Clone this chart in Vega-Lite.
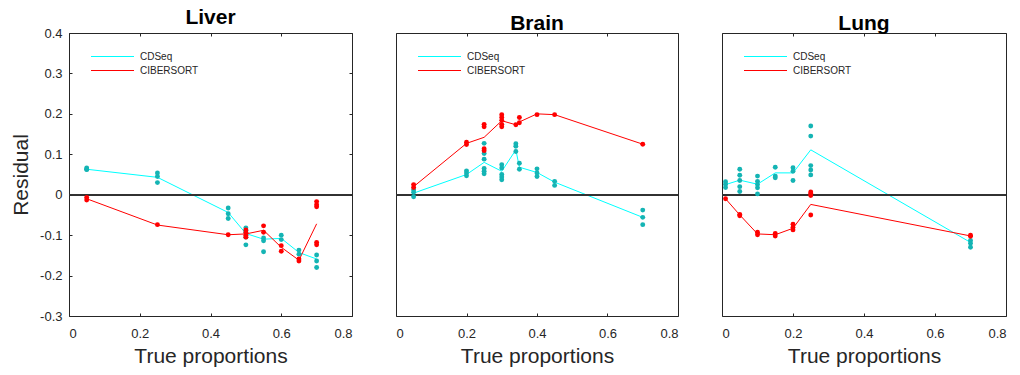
{
  "$schema": "https://vega.github.io/schema/vega-lite/v6.json",
  "padding": {"left": 10, "top": 6, "right": 0, "bottom": 0},
  "spacing": 44,
  "bounds": "flush",
  "datasets": {
    "d": [
      {"panel":"Liver","method":"CDSeq","kind":"pt","x":0.05,"y":0.066},
      {"panel":"Liver","method":"CDSeq","kind":"pt","x":0.05,"y":0.063},
      {"panel":"Liver","method":"CDSeq","kind":"pt","x":0.05,"y":0.062},
      {"panel":"Liver","method":"CDSeq","kind":"pt","x":0.25,"y":0.054},
      {"panel":"Liver","method":"CDSeq","kind":"pt","x":0.25,"y":0.045},
      {"panel":"Liver","method":"CDSeq","kind":"pt","x":0.25,"y":0.030},
      {"panel":"Liver","method":"CDSeq","kind":"pt","x":0.45,"y":-0.033},
      {"panel":"Liver","method":"CDSeq","kind":"pt","x":0.45,"y":-0.047},
      {"panel":"Liver","method":"CDSeq","kind":"pt","x":0.45,"y":-0.059},
      {"panel":"Liver","method":"CDSeq","kind":"pt","x":0.5,"y":-0.082},
      {"panel":"Liver","method":"CDSeq","kind":"pt","x":0.5,"y":-0.088},
      {"panel":"Liver","method":"CDSeq","kind":"pt","x":0.5,"y":-0.093},
      {"panel":"Liver","method":"CDSeq","kind":"pt","x":0.5,"y":-0.105},
      {"panel":"Liver","method":"CDSeq","kind":"pt","x":0.5,"y":-0.124},
      {"panel":"Liver","method":"CDSeq","kind":"pt","x":0.55,"y":-0.107},
      {"panel":"Liver","method":"CDSeq","kind":"pt","x":0.55,"y":-0.114},
      {"panel":"Liver","method":"CDSeq","kind":"pt","x":0.55,"y":-0.141},
      {"panel":"Liver","method":"CDSeq","kind":"pt","x":0.6,"y":-0.100},
      {"panel":"Liver","method":"CDSeq","kind":"pt","x":0.6,"y":-0.111},
      {"panel":"Liver","method":"CDSeq","kind":"pt","x":0.65,"y":-0.137},
      {"panel":"Liver","method":"CDSeq","kind":"pt","x":0.65,"y":-0.147},
      {"panel":"Liver","method":"CDSeq","kind":"pt","x":0.7,"y":-0.149},
      {"panel":"Liver","method":"CDSeq","kind":"pt","x":0.7,"y":-0.164},
      {"panel":"Liver","method":"CDSeq","kind":"pt","x":0.7,"y":-0.180},
      {"panel":"Liver","method":"CIBERSORT","kind":"pt","x":0.05,"y":-0.007},
      {"panel":"Liver","method":"CIBERSORT","kind":"pt","x":0.05,"y":-0.013},
      {"panel":"Liver","method":"CIBERSORT","kind":"pt","x":0.25,"y":-0.074},
      {"panel":"Liver","method":"CIBERSORT","kind":"pt","x":0.45,"y":-0.099},
      {"panel":"Liver","method":"CIBERSORT","kind":"pt","x":0.5,"y":-0.087},
      {"panel":"Liver","method":"CIBERSORT","kind":"pt","x":0.5,"y":-0.094},
      {"panel":"Liver","method":"CIBERSORT","kind":"pt","x":0.5,"y":-0.100},
      {"panel":"Liver","method":"CIBERSORT","kind":"pt","x":0.5,"y":-0.105},
      {"panel":"Liver","method":"CIBERSORT","kind":"pt","x":0.55,"y":-0.077},
      {"panel":"Liver","method":"CIBERSORT","kind":"pt","x":0.55,"y":-0.093},
      {"panel":"Liver","method":"CIBERSORT","kind":"pt","x":0.6,"y":-0.126},
      {"panel":"Liver","method":"CIBERSORT","kind":"pt","x":0.6,"y":-0.140},
      {"panel":"Liver","method":"CIBERSORT","kind":"pt","x":0.65,"y":-0.159},
      {"panel":"Liver","method":"CIBERSORT","kind":"pt","x":0.65,"y":-0.164},
      {"panel":"Liver","method":"CIBERSORT","kind":"pt","x":0.7,"y":-0.017},
      {"panel":"Liver","method":"CIBERSORT","kind":"pt","x":0.7,"y":-0.025},
      {"panel":"Liver","method":"CIBERSORT","kind":"pt","x":0.7,"y":-0.030},
      {"panel":"Liver","method":"CIBERSORT","kind":"pt","x":0.7,"y":-0.118},
      {"panel":"Liver","method":"CIBERSORT","kind":"pt","x":0.7,"y":-0.124},
      {"panel":"Liver","method":"CDSeq","kind":"mean","x":0.05,"y":0.063},
      {"panel":"Liver","method":"CDSeq","kind":"mean","x":0.25,"y":0.043},
      {"panel":"Liver","method":"CDSeq","kind":"mean","x":0.45,"y":-0.044},
      {"panel":"Liver","method":"CDSeq","kind":"mean","x":0.5,"y":-0.096},
      {"panel":"Liver","method":"CDSeq","kind":"mean","x":0.55,"y":-0.110},
      {"panel":"Liver","method":"CDSeq","kind":"mean","x":0.6,"y":-0.108},
      {"panel":"Liver","method":"CDSeq","kind":"mean","x":0.65,"y":-0.143},
      {"panel":"Liver","method":"CDSeq","kind":"mean","x":0.7,"y":-0.159},
      {"panel":"Liver","method":"CIBERSORT","kind":"mean","x":0.05,"y":-0.010},
      {"panel":"Liver","method":"CIBERSORT","kind":"mean","x":0.25,"y":-0.075},
      {"panel":"Liver","method":"CIBERSORT","kind":"mean","x":0.45,"y":-0.099},
      {"panel":"Liver","method":"CIBERSORT","kind":"mean","x":0.5,"y":-0.097},
      {"panel":"Liver","method":"CIBERSORT","kind":"mean","x":0.55,"y":-0.088},
      {"panel":"Liver","method":"CIBERSORT","kind":"mean","x":0.6,"y":-0.130},
      {"panel":"Liver","method":"CIBERSORT","kind":"mean","x":0.65,"y":-0.162},
      {"panel":"Liver","method":"CIBERSORT","kind":"mean","x":0.7,"y":-0.072},

      {"panel":"Brain","method":"CDSeq","kind":"pt","x":0.05,"y":0.012},
      {"panel":"Brain","method":"CDSeq","kind":"pt","x":0.05,"y":0.006},
      {"panel":"Brain","method":"CDSeq","kind":"pt","x":0.05,"y":-0.005},
      {"panel":"Brain","method":"CDSeq","kind":"pt","x":0.2,"y":0.059},
      {"panel":"Brain","method":"CDSeq","kind":"pt","x":0.2,"y":0.054},
      {"panel":"Brain","method":"CDSeq","kind":"pt","x":0.2,"y":0.047},
      {"panel":"Brain","method":"CDSeq","kind":"pt","x":0.25,"y":0.127},
      {"panel":"Brain","method":"CDSeq","kind":"pt","x":0.25,"y":0.102},
      {"panel":"Brain","method":"CDSeq","kind":"pt","x":0.25,"y":0.088},
      {"panel":"Brain","method":"CDSeq","kind":"pt","x":0.25,"y":0.065},
      {"panel":"Brain","method":"CDSeq","kind":"pt","x":0.25,"y":0.058},
      {"panel":"Brain","method":"CDSeq","kind":"pt","x":0.25,"y":0.052},
      {"panel":"Brain","method":"CDSeq","kind":"pt","x":0.3,"y":0.074},
      {"panel":"Brain","method":"CDSeq","kind":"pt","x":0.3,"y":0.066},
      {"panel":"Brain","method":"CDSeq","kind":"pt","x":0.3,"y":0.050},
      {"panel":"Brain","method":"CDSeq","kind":"pt","x":0.3,"y":0.044},
      {"panel":"Brain","method":"CDSeq","kind":"pt","x":0.3,"y":0.037},
      {"panel":"Brain","method":"CDSeq","kind":"pt","x":0.34,"y":0.126},
      {"panel":"Brain","method":"CDSeq","kind":"pt","x":0.34,"y":0.120},
      {"panel":"Brain","method":"CDSeq","kind":"pt","x":0.34,"y":0.107},
      {"panel":"Brain","method":"CDSeq","kind":"pt","x":0.35,"y":0.078},
      {"panel":"Brain","method":"CDSeq","kind":"pt","x":0.35,"y":0.063},
      {"panel":"Brain","method":"CDSeq","kind":"pt","x":0.4,"y":0.064},
      {"panel":"Brain","method":"CDSeq","kind":"pt","x":0.4,"y":0.054},
      {"panel":"Brain","method":"CDSeq","kind":"pt","x":0.4,"y":0.045},
      {"panel":"Brain","method":"CDSeq","kind":"pt","x":0.45,"y":0.033},
      {"panel":"Brain","method":"CDSeq","kind":"pt","x":0.45,"y":0.023},
      {"panel":"Brain","method":"CDSeq","kind":"pt","x":0.7,"y":-0.038},
      {"panel":"Brain","method":"CDSeq","kind":"pt","x":0.7,"y":-0.056},
      {"panel":"Brain","method":"CDSeq","kind":"pt","x":0.7,"y":-0.074},
      {"panel":"Brain","method":"CIBERSORT","kind":"pt","x":0.05,"y":0.025},
      {"panel":"Brain","method":"CIBERSORT","kind":"pt","x":0.05,"y":0.018},
      {"panel":"Brain","method":"CIBERSORT","kind":"pt","x":0.2,"y":0.130},
      {"panel":"Brain","method":"CIBERSORT","kind":"pt","x":0.2,"y":0.124},
      {"panel":"Brain","method":"CIBERSORT","kind":"pt","x":0.25,"y":0.174},
      {"panel":"Brain","method":"CIBERSORT","kind":"pt","x":0.25,"y":0.168},
      {"panel":"Brain","method":"CIBERSORT","kind":"pt","x":0.25,"y":0.114},
      {"panel":"Brain","method":"CIBERSORT","kind":"pt","x":0.25,"y":0.109},
      {"panel":"Brain","method":"CIBERSORT","kind":"pt","x":0.3,"y":0.198},
      {"panel":"Brain","method":"CIBERSORT","kind":"pt","x":0.3,"y":0.191},
      {"panel":"Brain","method":"CIBERSORT","kind":"pt","x":0.3,"y":0.184},
      {"panel":"Brain","method":"CIBERSORT","kind":"pt","x":0.3,"y":0.174},
      {"panel":"Brain","method":"CIBERSORT","kind":"pt","x":0.3,"y":0.168},
      {"panel":"Brain","method":"CIBERSORT","kind":"pt","x":0.34,"y":0.173},
      {"panel":"Brain","method":"CIBERSORT","kind":"pt","x":0.35,"y":0.191},
      {"panel":"Brain","method":"CIBERSORT","kind":"pt","x":0.35,"y":0.178},
      {"panel":"Brain","method":"CIBERSORT","kind":"pt","x":0.4,"y":0.198},
      {"panel":"Brain","method":"CIBERSORT","kind":"pt","x":0.45,"y":0.198},
      {"panel":"Brain","method":"CIBERSORT","kind":"pt","x":0.7,"y":0.125},
      {"panel":"Brain","method":"CDSeq","kind":"mean","x":0.05,"y":0.004},
      {"panel":"Brain","method":"CDSeq","kind":"mean","x":0.2,"y":0.050},
      {"panel":"Brain","method":"CDSeq","kind":"mean","x":0.25,"y":0.080},
      {"panel":"Brain","method":"CDSeq","kind":"mean","x":0.3,"y":0.058},
      {"panel":"Brain","method":"CDSeq","kind":"mean","x":0.34,"y":0.111},
      {"panel":"Brain","method":"CDSeq","kind":"mean","x":0.35,"y":0.068},
      {"panel":"Brain","method":"CDSeq","kind":"mean","x":0.4,"y":0.055},
      {"panel":"Brain","method":"CDSeq","kind":"mean","x":0.45,"y":0.031},
      {"panel":"Brain","method":"CDSeq","kind":"mean","x":0.7,"y":-0.056},
      {"panel":"Brain","method":"CIBERSORT","kind":"mean","x":0.05,"y":0.020},
      {"panel":"Brain","method":"CIBERSORT","kind":"mean","x":0.2,"y":0.127},
      {"panel":"Brain","method":"CIBERSORT","kind":"mean","x":0.25,"y":0.142},
      {"panel":"Brain","method":"CIBERSORT","kind":"mean","x":0.3,"y":0.183},
      {"panel":"Brain","method":"CIBERSORT","kind":"mean","x":0.34,"y":0.173},
      {"panel":"Brain","method":"CIBERSORT","kind":"mean","x":0.35,"y":0.180},
      {"panel":"Brain","method":"CIBERSORT","kind":"mean","x":0.4,"y":0.200},
      {"panel":"Brain","method":"CIBERSORT","kind":"mean","x":0.45,"y":0.198},
      {"panel":"Brain","method":"CIBERSORT","kind":"mean","x":0.7,"y":0.125},

      {"panel":"Lung","method":"CDSeq","kind":"pt","x":0.01,"y":0.032},
      {"panel":"Lung","method":"CDSeq","kind":"pt","x":0.01,"y":0.026},
      {"panel":"Lung","method":"CDSeq","kind":"pt","x":0.01,"y":0.018},
      {"panel":"Lung","method":"CDSeq","kind":"pt","x":0.05,"y":0.063},
      {"panel":"Lung","method":"CDSeq","kind":"pt","x":0.05,"y":0.048},
      {"panel":"Lung","method":"CDSeq","kind":"pt","x":0.05,"y":0.035},
      {"panel":"Lung","method":"CDSeq","kind":"pt","x":0.05,"y":0.020},
      {"panel":"Lung","method":"CDSeq","kind":"pt","x":0.05,"y":0.008},
      {"panel":"Lung","method":"CDSeq","kind":"pt","x":0.1,"y":0.046},
      {"panel":"Lung","method":"CDSeq","kind":"pt","x":0.1,"y":0.033},
      {"panel":"Lung","method":"CDSeq","kind":"pt","x":0.1,"y":0.025},
      {"panel":"Lung","method":"CDSeq","kind":"pt","x":0.1,"y":0.017},
      {"panel":"Lung","method":"CDSeq","kind":"pt","x":0.1,"y":0.002},
      {"panel":"Lung","method":"CDSeq","kind":"pt","x":0.15,"y":0.068},
      {"panel":"Lung","method":"CDSeq","kind":"pt","x":0.15,"y":0.046},
      {"panel":"Lung","method":"CDSeq","kind":"pt","x":0.15,"y":0.042},
      {"panel":"Lung","method":"CDSeq","kind":"pt","x":0.2,"y":0.067},
      {"panel":"Lung","method":"CDSeq","kind":"pt","x":0.2,"y":0.058},
      {"panel":"Lung","method":"CDSeq","kind":"pt","x":0.2,"y":0.035},
      {"panel":"Lung","method":"CDSeq","kind":"pt","x":0.25,"y":0.170},
      {"panel":"Lung","method":"CDSeq","kind":"pt","x":0.25,"y":0.145},
      {"panel":"Lung","method":"CDSeq","kind":"pt","x":0.25,"y":0.072},
      {"panel":"Lung","method":"CDSeq","kind":"pt","x":0.25,"y":0.061},
      {"panel":"Lung","method":"CDSeq","kind":"pt","x":0.25,"y":0.049},
      {"panel":"Lung","method":"CDSeq","kind":"pt","x":0.7,"y":-0.113},
      {"panel":"Lung","method":"CDSeq","kind":"pt","x":0.7,"y":-0.120},
      {"panel":"Lung","method":"CDSeq","kind":"pt","x":0.7,"y":-0.130},
      {"panel":"Lung","method":"CIBERSORT","kind":"pt","x":0.01,"y":-0.010},
      {"panel":"Lung","method":"CIBERSORT","kind":"pt","x":0.05,"y":-0.049},
      {"panel":"Lung","method":"CIBERSORT","kind":"pt","x":0.05,"y":-0.052},
      {"panel":"Lung","method":"CIBERSORT","kind":"pt","x":0.1,"y":-0.093},
      {"panel":"Lung","method":"CIBERSORT","kind":"pt","x":0.1,"y":-0.099},
      {"panel":"Lung","method":"CIBERSORT","kind":"pt","x":0.15,"y":-0.096},
      {"panel":"Lung","method":"CIBERSORT","kind":"pt","x":0.15,"y":-0.102},
      {"panel":"Lung","method":"CIBERSORT","kind":"pt","x":0.2,"y":-0.073},
      {"panel":"Lung","method":"CIBERSORT","kind":"pt","x":0.2,"y":-0.081},
      {"panel":"Lung","method":"CIBERSORT","kind":"pt","x":0.2,"y":-0.087},
      {"panel":"Lung","method":"CIBERSORT","kind":"pt","x":0.25,"y":0.007},
      {"panel":"Lung","method":"CIBERSORT","kind":"pt","x":0.25,"y":0.003},
      {"panel":"Lung","method":"CIBERSORT","kind":"pt","x":0.25,"y":-0.002},
      {"panel":"Lung","method":"CIBERSORT","kind":"pt","x":0.25,"y":-0.050},
      {"panel":"Lung","method":"CIBERSORT","kind":"pt","x":0.7,"y":-0.100},
      {"panel":"Lung","method":"CIBERSORT","kind":"pt","x":0.7,"y":-0.103},
      {"panel":"Lung","method":"CDSeq","kind":"mean","x":0.01,"y":0.025},
      {"panel":"Lung","method":"CDSeq","kind":"mean","x":0.05,"y":0.036},
      {"panel":"Lung","method":"CDSeq","kind":"mean","x":0.1,"y":0.026},
      {"panel":"Lung","method":"CDSeq","kind":"mean","x":0.15,"y":0.054},
      {"panel":"Lung","method":"CDSeq","kind":"mean","x":0.2,"y":0.054},
      {"panel":"Lung","method":"CDSeq","kind":"mean","x":0.25,"y":0.111},
      {"panel":"Lung","method":"CDSeq","kind":"mean","x":0.7,"y":-0.118},
      {"panel":"Lung","method":"CIBERSORT","kind":"mean","x":0.01,"y":-0.010},
      {"panel":"Lung","method":"CIBERSORT","kind":"mean","x":0.05,"y":-0.050},
      {"panel":"Lung","method":"CIBERSORT","kind":"mean","x":0.1,"y":-0.097},
      {"panel":"Lung","method":"CIBERSORT","kind":"mean","x":0.15,"y":-0.099},
      {"panel":"Lung","method":"CIBERSORT","kind":"mean","x":0.2,"y":-0.083},
      {"panel":"Lung","method":"CIBERSORT","kind":"mean","x":0.25,"y":-0.024},
      {"panel":"Lung","method":"CIBERSORT","kind":"mean","x":0.7,"y":-0.102}
    ]
  },
  "hconcat": [
    {
      "title": "Liver",
      "width": 283, "height": 283,
      "data": {"name": "d"},
      "transform": [{"filter": "datum.panel == 'Liver'"}],
      "layer": [
        {"transform": [{"filter": "datum.kind == 'mean'"}],
         "mark": {"type": "line", "strokeWidth": 1},
         "encoding": {
           "x": {"field": "x", "type": "quantitative", "scale": {"domain": [0, 0.8], "padding": 0, "nice": false}, "axis": {"orient": "bottom", "values": [0, 0.2, 0.4, 0.6, 0.8], "title": "True proportions", "labelExpr": "datum.value == 0 ? '0' : replace(datum.label, '\u2212', '-')"}},
           "y": {"field": "y", "type": "quantitative", "scale": {"domain": [-0.3, 0.4], "padding": 0, "nice": false, "zero": false}, "axis": {"orient": "left", "values": [-0.3, -0.2, -0.1, 0, 0.1, 0.2, 0.3, 0.4], "title": "Residual", "labelExpr": "datum.value == 0 ? '0' : replace(datum.label, '\u2212', '-')"}},
           "stroke": {"field": "method", "type": "nominal", "scale": {"domain": ["CDSeq", "CIBERSORT"], "range": ["#00FFFF", "#FF0000"]}, "legend": {"title": null, "orient": "none", "legendX": 38, "legendY": 18, "encode": {"symbols": {"update": {"stroke": {"signal": "datum.value == 'CDSeq' ? '#00FFFF' : '#FF0000'"}, "opacity": {"value": 1}, "strokeWidth": {"value": 1}}}}}},
           "order": {"field": "x", "type": "quantitative"}
         }},
        {"mark": {"type": "rule", "color": "#333333", "strokeWidth": 1}, "encoding": {"y": {"datum": 0, "type": "quantitative", "scale": {"domain": [-0.3, 0.4], "padding": 0, "nice": false, "zero": false}, "axis": null}}},
        {"transform": [{"filter": "datum.kind == 'pt'"}],
         "mark": {"type": "circle", "size": 24, "opacity": 1},
         "encoding": {
           "x": {"field": "x", "type": "quantitative", "scale": {"domain": [0, 0.8], "padding": 0, "nice": false}, "axis": {"orient": "top", "values": [0, 0.2, 0.4, 0.6, 0.8], "labels": false, "title": null}},
           "y": {"field": "y", "type": "quantitative", "scale": {"domain": [-0.3, 0.4], "padding": 0, "nice": false, "zero": false}, "axis": {"orient": "right", "values": [-0.3, -0.2, -0.1, 0, 0.1, 0.2, 0.3, 0.4], "labels": false, "title": null}},
           "fill": {"field": "method", "type": "nominal", "scale": {"domain": ["CDSeq", "CIBERSORT"], "range": ["#14B4B4", "#FF0000"]}, "legend": null}
         }}
      ],
      "resolve": {"axis": {"x": "independent", "y": "independent"}}
    },
    {
      "title": "Brain",
      "width": 282, "height": 283,
      "data": {"name": "d"},
      "transform": [{"filter": "datum.panel == 'Brain'"}],
      "layer": [
        {"transform": [{"filter": "datum.kind == 'mean'"}],
         "mark": {"type": "line", "strokeWidth": 1},
         "encoding": {
           "x": {"field": "x", "type": "quantitative", "scale": {"domain": [0, 0.8], "padding": 0, "nice": false}, "axis": {"orient": "bottom", "values": [0, 0.2, 0.4, 0.6, 0.8], "title": "True proportions", "labelExpr": "datum.value == 0 ? '0' : datum.label"}},
           "y": {"field": "y", "type": "quantitative", "scale": {"domain": [-0.3, 0.4], "padding": 0, "nice": false, "zero": false}, "axis": null},
           "stroke": {"field": "method", "type": "nominal", "scale": {"domain": ["CDSeq", "CIBERSORT"], "range": ["#00FFFF", "#FF0000"]}, "legend": {"title": null, "orient": "none", "legendX": 38, "legendY": 18, "encode": {"symbols": {"update": {"stroke": {"signal": "datum.value == 'CDSeq' ? '#00FFFF' : '#FF0000'"}, "opacity": {"value": 1}, "strokeWidth": {"value": 1}}}}}},
           "order": {"field": "x", "type": "quantitative"}
         }},
        {"mark": {"type": "rule", "color": "#333333", "strokeWidth": 1}, "encoding": {"y": {"datum": 0, "type": "quantitative", "scale": {"domain": [-0.3, 0.4], "padding": 0, "nice": false, "zero": false}, "axis": null}}},
        {"transform": [{"filter": "datum.kind == 'pt'"}],
         "mark": {"type": "circle", "size": 24, "opacity": 1},
         "encoding": {
           "x": {"field": "x", "type": "quantitative", "scale": {"domain": [0, 0.8], "padding": 0, "nice": false}, "axis": {"orient": "top", "values": [0, 0.2, 0.4, 0.6, 0.8], "labels": false, "title": null}},
           "y": {"field": "y", "type": "quantitative", "scale": {"domain": [-0.3, 0.4], "padding": 0, "nice": false, "zero": false}, "axis": null},
           "fill": {"field": "method", "type": "nominal", "scale": {"domain": ["CDSeq", "CIBERSORT"], "range": ["#14B4B4", "#FF0000"]}, "legend": null}
         }}
      ],
      "resolve": {"axis": {"x": "independent", "y": "independent"}}
    },
    {
      "title": "Lung",
      "width": 284, "height": 283,
      "data": {"name": "d"},
      "transform": [{"filter": "datum.panel == 'Lung'"}],
      "layer": [
        {"transform": [{"filter": "datum.kind == 'mean'"}],
         "mark": {"type": "line", "strokeWidth": 1},
         "encoding": {
           "x": {"field": "x", "type": "quantitative", "scale": {"domain": [0, 0.8], "padding": 0, "nice": false}, "axis": {"orient": "bottom", "values": [0, 0.2, 0.4, 0.6, 0.8], "title": "True proportions", "labelExpr": "datum.value == 0 ? '0' : datum.label"}},
           "y": {"field": "y", "type": "quantitative", "scale": {"domain": [-0.3, 0.4], "padding": 0, "nice": false, "zero": false}, "axis": null},
           "stroke": {"field": "method", "type": "nominal", "scale": {"domain": ["CDSeq", "CIBERSORT"], "range": ["#00FFFF", "#FF0000"]}, "legend": {"title": null, "orient": "none", "legendX": 38, "legendY": 18, "encode": {"symbols": {"update": {"stroke": {"signal": "datum.value == 'CDSeq' ? '#00FFFF' : '#FF0000'"}, "opacity": {"value": 1}, "strokeWidth": {"value": 1}}}}}},
           "order": {"field": "x", "type": "quantitative"}
         }},
        {"mark": {"type": "rule", "color": "#333333", "strokeWidth": 1}, "encoding": {"y": {"datum": 0, "type": "quantitative", "scale": {"domain": [-0.3, 0.4], "padding": 0, "nice": false, "zero": false}, "axis": null}}},
        {"transform": [{"filter": "datum.kind == 'pt'"}],
         "mark": {"type": "circle", "size": 24, "opacity": 1},
         "encoding": {
           "x": {"field": "x", "type": "quantitative", "scale": {"domain": [0, 0.8], "padding": 0, "nice": false}, "axis": {"orient": "top", "values": [0, 0.2, 0.4, 0.6, 0.8], "labels": false, "title": null}},
           "y": {"field": "y", "type": "quantitative", "scale": {"domain": [-0.3, 0.4], "padding": 0, "nice": false, "zero": false}, "axis": null},
           "fill": {"field": "method", "type": "nominal", "scale": {"domain": ["CDSeq", "CIBERSORT"], "range": ["#14B4B4", "#FF0000"]}, "legend": null}
         }}
      ],
      "resolve": {"axis": {"x": "independent", "y": "independent"}}
    }
  ],
  "resolve": {"legend": {"stroke": "independent"}, "scale": {"stroke": "independent", "fill": "independent"}},
  "config": {
    "font": "Liberation Sans",
    "view": {"stroke": "#262626", "strokeWidth": 1},
    "axis": {"domain": false, "grid": false, "tickSize": -3, "tickColor": "#262626", "labelColor": "#262626", "labelFontSize": 13, "labelPadding": 10, "titleFontSize": 21, "titleFontWeight": "normal", "titleColor": "#262626"},
    "axisX": {"titlePadding": 5, "labelPadding": 14},
    "axisY": {"titlePadding": 8},
    "title": {"fontSize": 21, "fontWeight": "bold", "color": "#000000", "offset": -1},
    "legend": {"symbolType": "M-4.3,0H4.3", "symbolSize": 100, "symbolStrokeWidth": 1, "labelFontSize": 10, "labelColor": "#262626", "labelOffset": 22, "rowPadding": 3, "padding": 0}
  }
}
